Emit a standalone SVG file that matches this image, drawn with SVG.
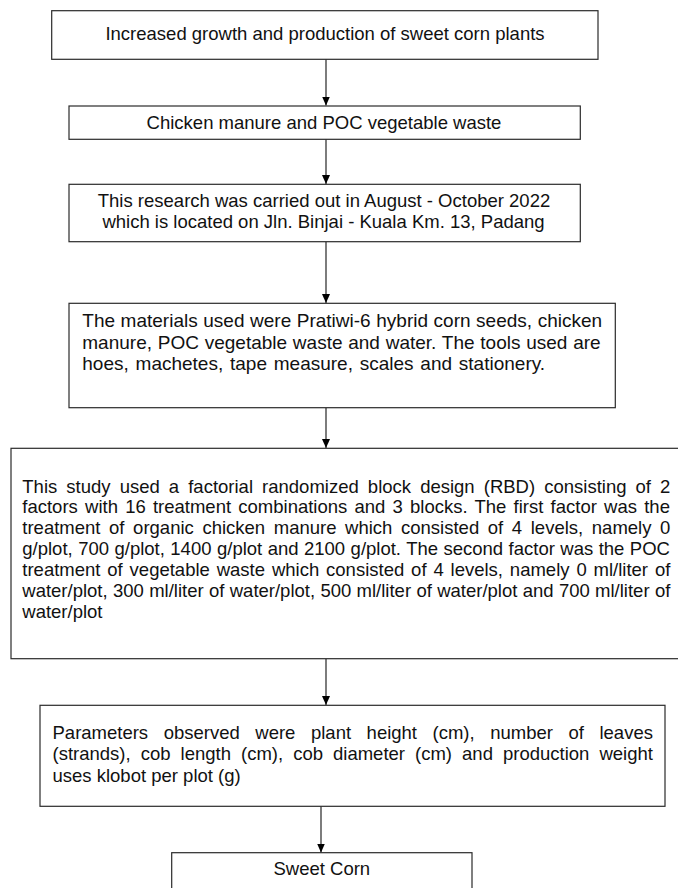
<svg xmlns="http://www.w3.org/2000/svg" width="678" height="888" viewBox="0 0 678 888">
<defs>
<marker id="ah" markerUnits="userSpaceOnUse" markerWidth="9" markerHeight="8" refX="9" refY="4" orient="auto">
<path d="M0,0 L9,4 L0,8 z" fill="#000"/>
</marker>
<style>
.box{fill:#fff;stroke:#2b2b2b;stroke-width:1.2}
.t{font-family:"Liberation Sans",Arial,sans-serif;font-size:18.5px;fill:#111}
.b4{font-size:19px}
.c{text-anchor:middle}
.conn line{stroke:#111;stroke-width:1.1;marker-end:url(#ah)}
</style>
</defs>
<rect width="678" height="888" fill="#fff"/>
<g id="connectors" class="conn">
<line x1="326" y1="59.3" x2="326" y2="105.5"/>
<line x1="326" y1="139.3" x2="326" y2="184"/>
<line x1="326" y1="241.7" x2="326" y2="303"/>
<line x1="326" y1="407.7" x2="326" y2="448"/>
<line x1="326" y1="658.7" x2="326" y2="705"/>
<line x1="321" y1="806.3" x2="321" y2="852.5"/>
</g>
<g id="n1">
<rect class="box" x="51.7" y="10.7" width="546.3" height="48.6"/>
<text class="t c" x="325" y="40">Increased growth and production of sweet corn plants</text>
</g>
<g id="n2">
<rect class="box" x="69" y="106" width="511.3" height="33.3"/>
<text class="t c" x="324" y="129">Chicken manure and POC vegetable waste</text>
</g>
<g id="n3">
<rect class="box" x="69" y="184.3" width="511.3" height="57.4"/>
<text class="t c" x="324" y="207">This research was carried out in August - October 2022</text>
<text class="t c" x="323.5" y="228">which is located on Jln. Binjai - Kuala Km. 13, Padang</text>
</g>
<g id="n4">
<rect class="box" x="69" y="303.3" width="546.3" height="104.4"/>
<text class="t b4" x="82.3" y="326.7" word-spacing="0.29">The materials used were Pratiwi-6 hybrid corn seeds, chicken</text>
<text class="t b4" x="82.3" y="348.5" word-spacing="0.48">manure, POC vegetable waste and water. The tools used are</text>
<text class="t b4" x="82.3" y="370" word-spacing="1.5">hoes, machetes, tape measure, scales and stationery.</text>
</g>
<g id="n5">
<rect class="box" x="11" y="448.3" width="690" height="210.4"/>
<text class="t" x="22.3" y="492.5" word-spacing="3.95">This study used a factorial randomized block design (RBD) consisting of 2</text>
<text class="t" x="22.3" y="513.4" word-spacing="2.07">factors with 16 treatment combinations and 3 blocks. The first factor was the</text>
<text class="t" x="22.3" y="534.3" word-spacing="3.48">treatment of organic chicken manure which consisted of 4 levels, namely 0</text>
<text class="t" x="22.3" y="555.2" word-spacing="0.32">g/plot, 700 g/plot, 1400 g/plot and 2100 g/plot. The second factor was the POC</text>
<text class="t" x="22.3" y="576.1" word-spacing="1.73">treatment of vegetable waste which consisted of 4 levels, namely 0 ml/liter of</text>
<text class="t" x="22.3" y="597" word-spacing="0.19">water/plot, 300 ml/liter of water/plot, 500 ml/liter of water/plot and 700 ml/liter of</text>
<text class="t" x="22.3" y="618.3">water/plot</text>
</g>
<g id="n6">
<rect class="box" x="40" y="705.3" width="625" height="101"/>
<text class="t" x="52.5" y="738.7" word-spacing="10.4">Parameters observed were plant height (cm), number of leaves</text>
<text class="t" x="52.5" y="760.3" word-spacing="4.9">(strands), cob length (cm), cob diameter (cm) and production weight</text>
<text class="t" x="52.5" y="782">uses klobot per plot (g)</text>
</g>
<g id="n7">
<rect class="box" x="171.7" y="852.7" width="300.3" height="50"/>
<text class="t c" x="321.8" y="875">Sweet Corn</text>
</g>
</svg>
